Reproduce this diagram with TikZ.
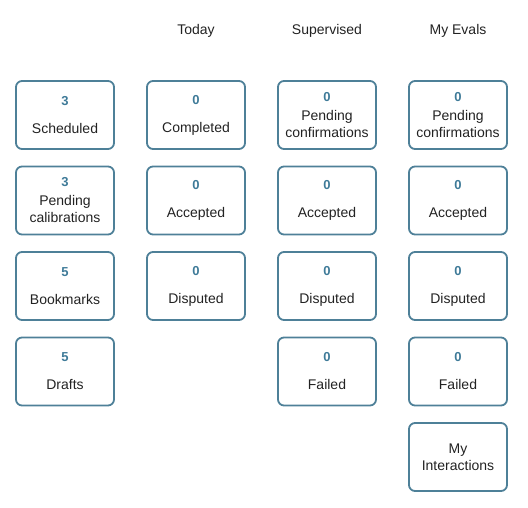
\documentclass[tikz,border=0pt]{standalone}
\usepackage{fontspec}
\setmainfont{Liberation Sans}
\usepackage{xcolor}
\usepackage{tikz}
\usetikzlibrary{positioning}

\definecolor{tileborder}{RGB}{78,128,152}
\definecolor{tilenum}{RGB}{62,122,152}
\definecolor{tiletext}{RGB}{34,34,34}

\newcommand{\num}[1]{{\fontsize{13}{15}\selectfont\bfseries\color{tilenum}#1}}

\begin{document}
\begin{tikzpicture}[
  x=1pt, y=1pt,
  node distance=17.5pt and 33pt,
  font=\fontsize{14}{17}\selectfont,
  tile/.style={rectangle, rounded corners=6pt, draw=tileborder, line width=1.8pt, align=center, minimum width=98pt, minimum height=68pt, inner sep=0pt, outer sep=0pt, text=tiletext},
  colhead/.style={text=tiletext, inner sep=0pt}
]
\useasboundingbox (0,0) rectangle (528,-508);

% left column
\node[tile] (sched) at (65,-115) {\num{3}\\[11pt]Scheduled};
\node[tile, below=of sched] (pcal) {\num{3}\\[2pt]Pending\\calibrations};
\node[tile, below=of pcal] (bmk) {\num{5}\\[11pt]Bookmarks};
\node[tile, below=of bmk] (drafts) {\num{5}\\[11pt]Drafts};

% today
\node[tile, right=of sched] (tcomp) {\num{0}\\[11pt]Completed};
\node[tile, below=of tcomp] (tacc) {\num{0}\\[11pt]Accepted};
\node[tile, below=of tacc] (tdisp) {\num{0}\\[11pt]Disputed};

% supervised
\node[tile, right=of tcomp] (spend) {\num{0}\\[2pt]Pending\\confirmations};
\node[tile, below=of spend] (sacc) {\num{0}\\[11pt]Accepted};
\node[tile, below=of sacc] (sdisp) {\num{0}\\[11pt]Disputed};
\node[tile, below=of sdisp] (sfail) {\num{0}\\[11pt]Failed};

% my evals
\node[tile, right=of spend] (mpend) {\num{0}\\[2pt]Pending\\confirmations};
\node[tile, below=of mpend] (macc) {\num{0}\\[11pt]Accepted};
\node[tile, below=of macc] (mdisp) {\num{0}\\[11pt]Disputed};
\node[tile, below=of mdisp] (mfail) {\num{0}\\[11pt]Failed};
\node[tile, below=of mfail] (mint) {My\\Interactions};

% column headers
\node[colhead] (htoday) at (196,-31) {Today};
\node[colhead] (hsup) at (327,-31) {Supervised};
\node[colhead] (hmine) at (458,-31) {My Evals};
\end{tikzpicture}
\end{document}
